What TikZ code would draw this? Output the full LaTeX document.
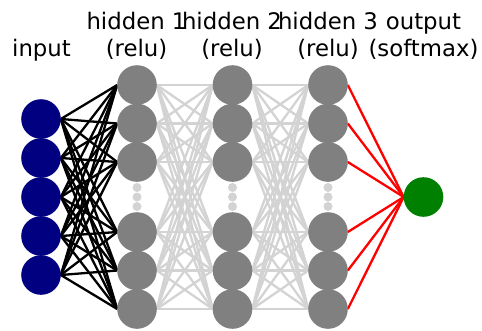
\documentclass[tikz,border=0pt]{standalone}
\usepackage{fontspec}
\setmainfont{DejaVu Sans}
\definecolor{mnavy}{RGB}{0,0,128}
\definecolor{mgray}{RGB}{128,128,128}
\definecolor{mlight}{RGB}{211,211,211}
\definecolor{mgreen}{RGB}{0,128,0}
\definecolor{mred}{RGB}{255,0,0}
\begin{document}
\begin{tikzpicture}[x=1pt,y=-1pt,
  neuron/.style={circle,inner sep=0pt,minimum size=39.6pt,draw=none},
  inn/.style={neuron,fill=mnavy},
  hid/.style={neuron,fill=mgray},
  outn/.style={neuron,fill=mgreen},
  dotn/.style={circle,inner sep=0pt,minimum size=9pt,fill=mlight},
  lbl/.style={anchor=base,inner sep=0pt,font=\fontsize{22.8}{26}\selectfont},
  blk/.style={draw=black,line width=2.3pt},
  gry/.style={draw=mlight,line width=2.3pt},
  rd/.style={draw=mred,line width=2.3pt}]
\useasboundingbox (0,0) rectangle (482,330);
% labels
\node[lbl] (tin) at (41.5,56) {input};
\node[lbl] (th1) at (136.5,29.5) {hidden 1};
\node[lbl] (th1b) at (136.5,56) {(relu)};
\node[lbl] (th2) at (232,29.5) {hidden 2};
\node[lbl] (th2b) at (232,56) {(relu)};
\node[lbl] (th3) at (328,29.5) {hidden 3};
\node[lbl] (th3b) at (328,56) {(relu)};
\node[lbl] (tout) at (423.5,29.5) {output};
\node[lbl] (toutb) at (423.5,56) {(softmax)};
% coordinates of neurons
\foreach \i/\y in {1/119,2/158,3/197,4/236,5/275}
  \coordinate (pi\i) at (41,\y);
\foreach \j/\y in {1/85,2/123.5,3/162,4/232,5/270.5,6/309}{
  \coordinate (pa\j) at (137,\y);
  \coordinate (pb\j) at (232.5,\y);
  \coordinate (pc\j) at (328,\y);
}
\coordinate (po) at (423.5,197);
% connections
\foreach \i in {1,...,5}
  \foreach \j in {1,...,6}
    \draw[blk] ([xshift=19.8pt]pi\i) -- ([xshift=-19.8pt]pa\j);
\foreach \i in {1,...,6}
  \foreach \j in {1,...,6}{
    \draw[gry] ([xshift=19.8pt]pa\i) -- ([xshift=-19.8pt]pb\j);
    \draw[gry] ([xshift=19.8pt]pb\i) -- ([xshift=-19.8pt]pc\j);
  }
\foreach \i in {1,...,6}
  \draw[rd] ([xshift=19.8pt]pc\i) -- ([xshift=-19.8pt]po);
% neurons
\foreach \i in {1,...,5}
  \node[inn] (in\i) at (pi\i) {};
\foreach \j in {1,...,6}{
  \node[hid] (ha\j) at (pa\j) {};
  \node[hid] (hb\j) at (pb\j) {};
  \node[hid] (hc\j) at (pc\j) {};
}
\node[outn] (out) at (po) {};
% ellipsis dots
\foreach \x/\n in {137/a,232.5/b,328/c}
  \foreach \y/\k in {187.5/1,197/2,206.5/3}
    \node[dotn] (d\n\k) at (\x,\y) {};
\end{tikzpicture}
\end{document}
